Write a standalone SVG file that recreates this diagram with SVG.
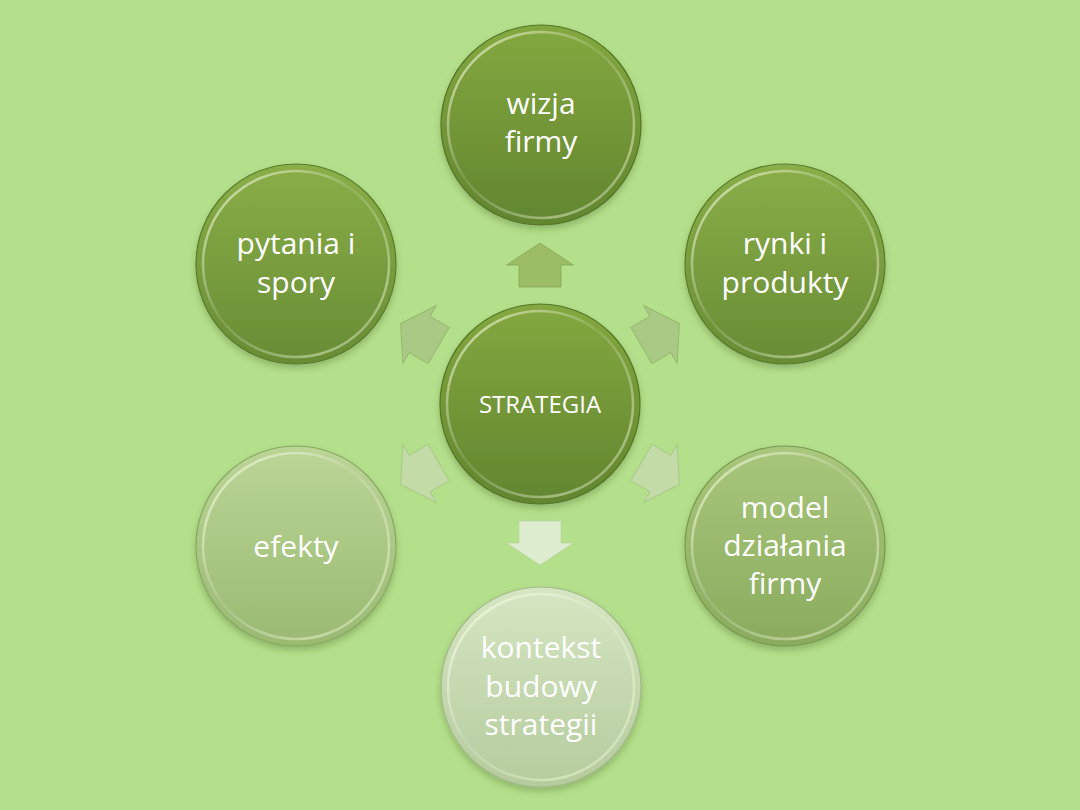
<svg xmlns="http://www.w3.org/2000/svg" width="1080" height="810" viewBox="0 0 1080 810">
<defs>
<style>
.lbl{font-family:"Open Sans","Noto Sans",sans-serif;font-size:30px;fill:#ffffff;text-anchor:middle}
.ctr{font-size:24px}
.rim{fill:none;stroke:url(#rimG);stroke-width:2.5}
.edge{stroke-width:1.2}
.arr{stroke-width:1;stroke-opacity:0.6}
</style>
<filter id="sh" x="-20%" y="-20%" width="140%" height="145%">
<feDropShadow dx="0" dy="4" stdDeviation="3" flood-color="#3d5a1a" flood-opacity="0.3"/>
</filter>
<linearGradient id="rimG" x1="0" y1="0" x2="1" y2="1">
<stop offset="0" stop-color="#f4ffd8" stop-opacity="0.75"/>
<stop offset="0.45" stop-color="#ffffff" stop-opacity="0.1"/>
<stop offset="0.8" stop-color="#f4ffd8" stop-opacity="0.45"/>
<stop offset="1" stop-color="#ffffff" stop-opacity="0.2"/>
</linearGradient>
<linearGradient id="gDark" x1="0" y1="0" x2="0" y2="1">
<stop offset="0" stop-color="#84a840"/><stop offset="1" stop-color="#62852f"/>
</linearGradient>
<linearGradient id="gDark2" x1="0" y1="0" x2="0" y2="1">
<stop offset="0" stop-color="#8aae48"/><stop offset="1" stop-color="#688c35"/>
</linearGradient>
<linearGradient id="gMid" x1="0" y1="0" x2="0" y2="1">
<stop offset="0" stop-color="#a9c77c"/><stop offset="1" stop-color="#8aab5e"/>
</linearGradient>
<linearGradient id="gLight" x1="0" y1="0" x2="0" y2="1">
<stop offset="0" stop-color="#bbd597"/><stop offset="1" stop-color="#9aba72"/>
</linearGradient>
<linearGradient id="gPale" x1="0" y1="0" x2="0" y2="1">
<stop offset="0" stop-color="#d6e6c3"/><stop offset="1" stop-color="#b5cb9d"/>
</linearGradient>
<path id="arrowUp" d="M0,-161 L33.5,-139 L21,-139 L21,-117 L-21,-117 L-21,-139 L-33.5,-139 Z"/>
</defs>
<rect width="1080" height="810" fill="#b4df8b"/>

<g id="connectors">
<use href="#arrowUp" class="arr" transform="translate(540,404)" fill="#9cbc66" stroke="#7d9d4c"/>
<use href="#arrowUp" class="arr" transform="translate(540,404) rotate(60)" fill="#a9c984" stroke="#88a862"/>
<use href="#arrowUp" class="arr" transform="translate(540,404) rotate(120)" fill="#c3dba6" stroke="#9fbb80"/>
<use href="#arrowUp" class="arr" transform="translate(540,404) rotate(180)" fill="#deedcf" stroke="#b8cfa0"/>
<use href="#arrowUp" class="arr" transform="translate(540,404) rotate(240)" fill="#c3dba6" stroke="#9fbb80"/>
<use href="#arrowUp" class="arr" transform="translate(540,404) rotate(300)" fill="#a9c984" stroke="#88a862"/>
</g>

<g id="node-wizja">
<circle cx="541" cy="125" r="100" fill="url(#gDark)" class="edge" stroke="#557526" filter="url(#sh)"/>
<circle cx="541" cy="125" r="93" class="rim"/>
<text class="lbl" x="541" y="114">wizja</text>
<text class="lbl" x="541" y="152">firmy</text>
</g>

<g id="node-rynki">
<circle cx="785" cy="264" r="100" fill="url(#gDark2)" class="edge" stroke="#5a7c2a" filter="url(#sh)"/>
<circle cx="785" cy="264" r="93" class="rim"/>
<text class="lbl" x="785" y="254">rynki i</text>
<text class="lbl" x="785" y="293">produkty</text>
</g>

<g id="node-model">
<circle cx="785" cy="546" r="100" fill="url(#gMid)" class="edge" stroke="#7a9a50" filter="url(#sh)"/>
<circle cx="785" cy="546" r="93" class="rim"/>
<text class="lbl" x="785" y="518">model</text>
<text class="lbl" x="785" y="556">działania</text>
<text class="lbl" x="785" y="594">firmy</text>
</g>

<g id="node-kontekst">
<circle cx="541" cy="687" r="100" fill="url(#gPale)" class="edge" stroke="#a3ba88" filter="url(#sh)"/>
<circle cx="541" cy="687" r="93" class="rim"/>
<text class="lbl" x="541" y="658">kontekst</text>
<text class="lbl" x="541" y="697">budowy</text>
<text class="lbl" x="541" y="735">strategii</text>
</g>

<g id="node-efekty">
<circle cx="296" cy="546" r="100" fill="url(#gLight)" class="edge" stroke="#88a862" filter="url(#sh)"/>
<circle cx="296" cy="546" r="93" class="rim"/>
<text class="lbl" x="296" y="557">efekty</text>
</g>

<g id="node-pytania">
<circle cx="296" cy="264" r="100" fill="url(#gDark2)" class="edge" stroke="#5a7c2a" filter="url(#sh)"/>
<circle cx="296" cy="264" r="93" class="rim"/>
<text class="lbl" x="296" y="254">pytania i</text>
<text class="lbl" x="296" y="293">spory</text>
</g>

<g id="node-strategia">
<circle cx="540" cy="404" r="100" fill="url(#gDark)" class="edge" stroke="#557526" filter="url(#sh)"/>
<circle cx="540" cy="404" r="93" class="rim"/>
<text class="lbl ctr" x="540" y="413">STRATEGIA</text>
</g>
</svg>
